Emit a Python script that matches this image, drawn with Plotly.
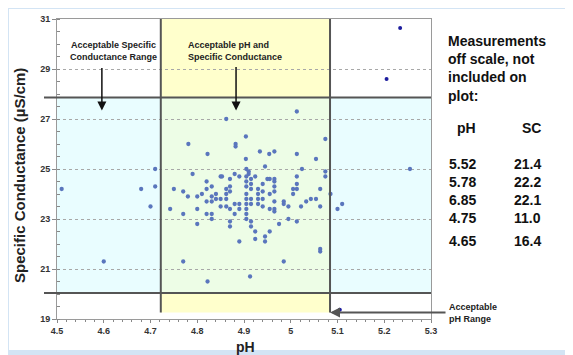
import plotly.graph_objects as go

# ---- data ----
ph_in = [4.51, 4.60, 4.68, 4.70, 4.71, 4.71, 5.10, 5.11, 5.255, 5.085,
         4.862, 5.013, 4.781, 4.882, 4.882, 4.904, 5.074, 4.822, 4.904, 4.934,
         4.954, 4.965, 5.013, 5.054, 4.945, 5.024, 5.074, 5.074, 5.013, 4.79,
         4.85, 4.88, 4.905, 4.89, 4.91, 4.91, 4.924, 4.95, 4.965,
         4.82, 4.853, 4.831, 4.75, 4.77, 4.78, 4.80, 4.81, 4.82, 4.831,
         4.831, 4.82, 4.84, 4.84, 4.85, 4.862, 4.862, 4.862, 4.87, 4.87,
         4.87, 4.87, 4.862, 4.85, 4.88, 4.89, 4.89, 4.88, 4.87, 4.87,
         4.89, 4.742, 4.77, 4.80, 4.80, 4.82, 4.831, 4.831,
         4.905, 4.905, 4.905, 4.905, 4.905, 4.905, 4.905, 4.905, 4.905,
         4.915, 4.915, 4.915, 4.915, 4.915,
         4.93, 4.93, 4.93, 4.93,
         4.94, 4.94, 4.94, 4.94,
         4.955, 4.965, 4.965, 4.965, 4.955, 4.965, 4.965, 4.965, 4.955, 4.975,
         4.985, 4.985, 4.995, 4.995, 5.005, 5.005, 5.013, 5.013, 5.013, 5.022,
         5.033, 5.043, 5.054, 5.063, 5.063, 5.063, 4.924, 4.924, 4.945, 4.945,
         4.955, 4.915, 4.915,
         4.77, 4.822, 4.913, 4.985, 5.063]
sc_in = [24.2, 21.3, 24.2, 23.5, 24.3, 25.0, 23.4, 23.6, 25.0, 24.0,
         27.0, 27.3, 26.0, 26.0, 25.9, 26.3, 26.2, 25.6, 25.4, 25.7,
         25.6, 25.7, 25.6, 25.4, 25.1, 25.0, 24.9, 24.7, 24.7, 24.8,
         24.7, 24.8, 25.0, 24.7, 24.9, 24.8, 24.7, 24.6, 24.6,
         24.5, 24.7, 24.3, 24.2, 24.1, 23.9, 23.9, 24.0, 24.2, 23.9,
         23.7, 23.7, 24.0, 23.8, 23.8, 23.8, 24.2, 24.0, 24.6, 24.3,
         24.1, 23.4, 23.5, 23.5, 23.6, 23.6, 23.4, 23.2, 22.9, 22.7,
         22.1, 23.4, 23.2, 23.4, 22.8, 23.2, 23.2, 23.0,
         24.0, 23.8, 23.6, 23.4, 23.2, 23.0, 24.7, 24.5, 24.3,
         24.6, 24.4, 24.2, 23.8, 23.6,
         24.2, 24.0, 23.8, 23.6,
         24.4, 24.1, 23.8, 23.5,
         24.6, 24.5, 24.3, 24.1, 24.0, 23.7, 23.4, 23.3, 23.4, 22.8,
         23.7, 23.6, 23.5, 23.0, 24.2, 24.0, 24.4, 24.2, 22.9, 23.5,
         23.7, 23.8, 23.8, 24.2, 23.5, 21.8, 22.5, 22.2, 22.3, 22.1,
         22.5, 22.9, 22.7,
         21.3, 20.5, 20.7, 21.3, 21.7]

ph_edge = [5.105, 5.205, 5.234]
sc_edge = [19.37, 28.6, 30.64]

ph_limits = [4.722, 5.084]
sc_limits = [20.04, 27.86]

y_ticks = [19, 21, 23, 25, 27, 29, 31]
y_tick_labels = ["19", "21", "23", "25", "27", "29", "31"]
x_ticks = [4.5, 4.6, 4.7, 4.8, 4.9, 5.0, 5.1, 5.2, 5.3]
x_tick_labels = ["4.5", "4.6", "4.7", "4.8", "4.9", "5", "5.1", "5.2", "5.3"]

off_ph = ["5.52", "5.78", "6.85", "4.75", "4.65"]
off_sc = ["21.4", "22.2", "22.1", "11.0", "16.4"]

X_RANGE = [4.5, 5.3]
Y_RANGE = [19, 31]
YELLOW_BOTTOM = 19.26

FONT = "Liberation Sans, Arial, sans-serif"

# plot area in screen pixels (page body has an 8px margin)
PL, PT, PW, PH = 57, 19, 374, 300
OFF = 8


def px(xp):
    return (xp - PL) / PW


def py(yp):
    return (PT + PH - yp) / PH


fig = go.Figure()

fig.add_trace(go.Scatter(x=ph_in, y=sc_in, mode="markers",
                         marker=dict(size=4.3, color="#5a76bd"),
                         hoverinfo="x+y", showlegend=False))
fig.add_trace(go.Scatter(x=ph_edge, y=sc_edge, mode="markers",
                         marker=dict(size=4, color="#1d1d9e"),
                         showlegend=False, cliponaxis=False))

shapes = []
shapes.append(dict(type="rect", xref="paper", yref="paper", x0=px(OFF + 1), x1=px(566),
                   y0=py(350), y1=py(OFF + 1), fillcolor="white", line_width=0,
                   layer="below"))
shapes.append(dict(type="rect", xref="x", yref="y", x0=X_RANGE[0], x1=X_RANGE[1],
                   y0=sc_limits[0], y1=sc_limits[1], fillcolor="#e9fdff",
                   line_width=0, layer="below"))
shapes.append(dict(type="rect", xref="x", yref="y", x0=ph_limits[0], x1=ph_limits[1],
                   y0=YELLOW_BOTTOM, y1=Y_RANGE[1], fillcolor="#ffffcc",
                   line_width=0, layer="below"))
shapes.append(dict(type="rect", xref="x", yref="y", x0=ph_limits[0], x1=ph_limits[1],
                   y0=sc_limits[0], y1=sc_limits[1], fillcolor="#edfde6",
                   line_width=0, layer="below"))
for s in sc_limits:
    shapes.append(dict(type="line", xref="paper", yref="y", x0=px(44), x1=1.0,
                       y0=s, y1=s, line=dict(color="#555555", width=2)))
for p in ph_limits:
    shapes.append(dict(type="line", xref="x", yref="y", x0=p, x1=p,
                       y0=YELLOW_BOTTOM, y1=Y_RANGE[1],
                       line=dict(color="#555555", width=2)))
fig.update_layout(shapes=shapes)

ann = []
lab_font = dict(family=FONT, size=9, color="#222222")
ann.append(dict(x=4.621, y=29.74, xref="x", yref="y", showarrow=False,
                yanchor="middle", xanchor="center",
                text="<b>Acceptable Specific<br>Conductance Range</b>",
                font=lab_font, align="center"))
ann.append(dict(x=4.776, y=29.74, xref="x", yref="y", showarrow=False,
                xanchor="left", yanchor="middle",
                text="<b>Acceptable pH and<br>Specific Conductance</b>",
                font=lab_font, align="left"))
ann.append(dict(x=4.596, y=27.34, xref="x", yref="y", text="", showarrow=True,
                ax=0, ay=-44, arrowhead=2, arrowsize=1.2, arrowwidth=1.5,
                arrowcolor="#111111"))
ann.append(dict(x=4.883, y=27.34, xref="x", yref="y", text="", showarrow=True,
                ax=0, ay=-45, arrowhead=2, arrowsize=1.2, arrowwidth=1.5,
                arrowcolor="#111111"))
ann.append(dict(x=ph_limits[1], y=YELLOW_BOTTOM, xref="x", yref="y", text="",
                showarrow=True, ax=117, ay=0, arrowhead=2, arrowsize=1,
                arrowwidth=2, arrowcolor="#555555"))
ann.append(dict(x=px(447), y=py(313), xref="paper", yref="paper", xanchor="left",
                yanchor="middle", showarrow=False, text="<b>Acceptable<br>pH Range</b>",
                font=lab_font, align="left"))
ann.append(dict(x=px(19), y=py(176), xref="paper", yref="paper", showarrow=False,
                textangle=-90, xanchor="center", yanchor="middle",
                text="<b>Specific Conductance (µS/cm)</b>",
                font=dict(family=FONT, size=15, color="#222222")))
ann.append(dict(x=px(245), y=py(347), xref="paper", yref="paper", showarrow=False,
                xanchor="center", yanchor="middle",
                text="<b>pH</b>", font=dict(family=FONT, size=14, color="#222222")))
side_font = dict(family=FONT, size=14, color="#111111")
ann.append(dict(x=px(446), y=py(68), xref="paper", yref="paper",
                xanchor="left", yanchor="middle", showarrow=False, align="left",
                text="<b>Measurements<br>off scale, not<br>included on<br>plot:</b>",
                font=side_font))
ann.append(dict(x=px(478), y=py(128), xref="paper", yref="paper", yanchor="middle",
                showarrow=False, text="<b>pH</b>", font=side_font))
ann.append(dict(x=px(543), y=py(128), xref="paper", yref="paper", yanchor="middle",
                showarrow=False, text="<b>SC</b>", font=side_font))
row_y = [164, 182, 200, 218, 241]
for ph_s, sc_s, ry in zip(off_ph, off_sc, row_y):
    ann.append(dict(x=px(478), y=py(ry), xref="paper", yref="paper", yanchor="middle",
                    showarrow=False, text="<b>%s</b>" % ph_s, font=side_font))
    ann.append(dict(x=px(543), y=py(ry), xref="paper", yref="paper", yanchor="middle",
                    showarrow=False, text="<b>%s</b>" % sc_s, font=side_font))
fig.update_layout(annotations=ann)

tick_font = dict(family=FONT, size=9, color="#333333")
fig.update_xaxes(range=X_RANGE, tickvals=x_ticks,
                 ticktext=["<b>%s</b>" % t for t in x_tick_labels],
                 tickfont=tick_font, showgrid=False, zeroline=False,
                 showline=True, linecolor="#9a9a9a", linewidth=1, mirror=True,
                 ticks="outside", ticklen=3, tickcolor="#888888", automargin=False,
                 minor=dict(dtick=0.02, ticks="outside", ticklen=2, tickcolor="#888888"))
fig.update_yaxes(range=Y_RANGE, tickvals=y_ticks,
                 ticktext=["<b>%s</b>" % t for t in y_tick_labels], tickfont=tick_font,
                 showgrid=True, gridcolor="#a8a8a8", griddash="dot", gridwidth=1,
                 zeroline=False, showline=True, linecolor="#9a9a9a", linewidth=1,
                 mirror=True, ticks="outside", ticklen=4, tickcolor="#888888",
                 automargin=False,
                 minor=dict(dtick=0.5, ticks="inside", ticklen=3, tickcolor="#888888",
                            showgrid=False))

W, H = 573 - OFF, 355 - OFF
fig.update_layout(width=W, height=H,
                  margin=dict(l=PL - OFF, r=W - (PL - OFF) - PW, t=PT - OFF,
                              b=H - (PT - OFF) - PH),
                  paper_bgcolor="#d3e4f4", plot_bgcolor="rgba(0,0,0,0)",
                  showlegend=False, font=dict(family=FONT))

fig.write_html("out.html")
